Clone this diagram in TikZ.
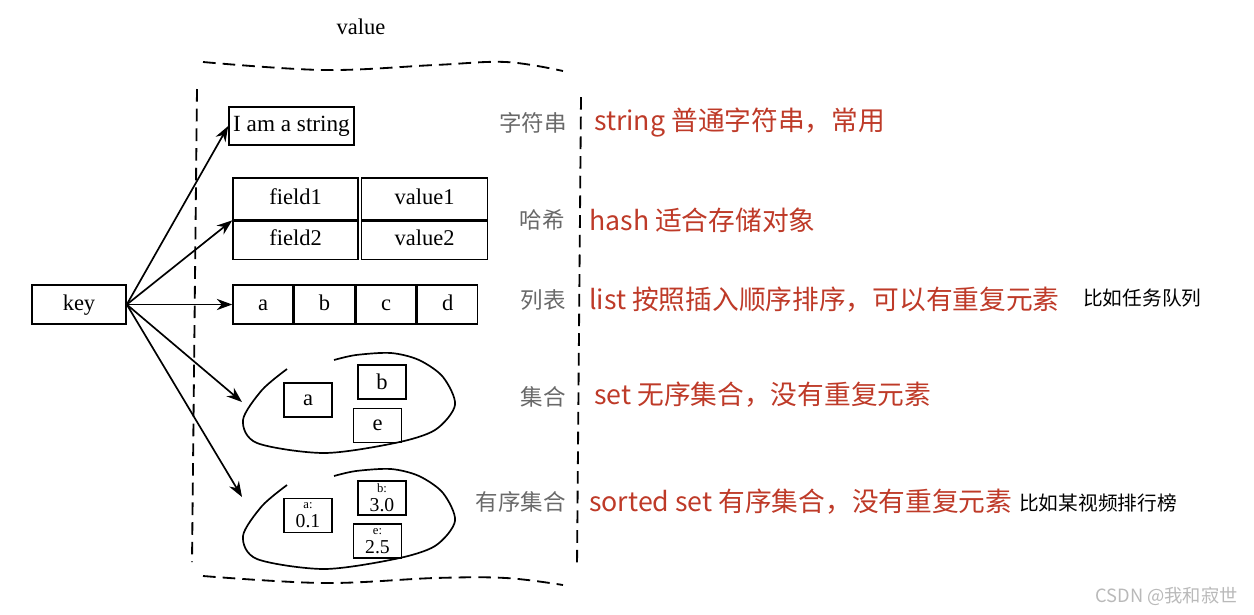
\documentclass[tikz,border=0pt]{standalone}
\usepackage{fontspec}
\usepackage{xcolor}
\usepackage{tikz}
\usetikzlibrary{arrows.meta, positioning}
\setmainfont{Liberation Serif}
\newfontfamily\cjk{Noto Sans CJK SC}
\definecolor{notered}{RGB}{190,58,40}
\definecolor{typegray}{RGB}{105,105,105}
\definecolor{markgray}{RGB}{185,185,185}

\begin{document}
\begin{tikzpicture}[
        x=0.025cm, y=-0.025cm,
        every node/.style={font=\fontsize{16}{18}\selectfont},
        cell/.style={rectangle, draw, line width=1.1pt, inner sep=0pt, minimum height=0.975cm, text height=11pt, text depth=3pt},
        member/.style={rectangle, draw, line width=1.1pt, inner sep=0pt, minimum width=1.2cm, minimum height=0.85cm},
        scored/.style={member, align=center, font=\fontsize{14}{13.5}\selectfont},
        border/.style={dash pattern=on 9pt off 5pt, line width=1.3pt},
        pool/.style={line width=1.2pt},
        typename/.style={anchor=east, inner sep=0pt, text=typegray, font=\cjk\fontsize{16}{16}\selectfont},
        note/.style={anchor=west, inner sep=0pt, text=notered, font=\cjk\fontsize{19}{20}\selectfont},
        example/.style={anchor=west, inner sep=0pt, font=\cjk\fontsize{14}{15}\selectfont},
        arrow/.style={-{Stealth[length=11pt, width=8pt]}, line width=1.2pt}
    ]
        \useasboundingbox (0,0) rectangle (1254,614);

        \node (title) at (361,27) {value};
        \draw[border] plot[smooth, tension=0.6] coordinates {(203,62) (324,70) (435,65) (506,62) (563,71)};
        \draw[border] plot[smooth, tension=0.6] coordinates {(203,576) (324,583) (435,578) (506,578) (563,585)};
        \draw[border] (197,89) -- (192,562);
        \draw[border] (581,97) -- (577,567);

        \node[cell, minimum width=2.35cm] (key) at (79,304.5) {key};
        \node[cell, minimum width=3.125cm, minimum height=0.95cm, font=\fontsize{16.5}{18}\selectfont] (str) at (291.5,126) {I am a string};

        \node[cell, minimum width=3.125cm, minimum height=1.04cm] (field1) at (295.5,198.8) {field1};
        \node[cell, minimum width=3.15cm, minimum height=1.04cm, right=0.05cm of field1] (value1) {value1};
        \node[cell, minimum width=3.125cm, minimum height=0.96cm, below=0pt of field1] (field2) {field2};
        \node[cell, minimum width=3.15cm, minimum height=0.96cm, below=0pt of value1] (value2) {value2};

        \node[cell, minimum width=1.5cm] (la) at (263,304.5) {a};
        \node[cell, minimum width=1.5cm, right=0pt of la] (lb) {b};
        \node[cell, minimum width=1.5cm, right=0pt of lb] (lc) {c};
        \node[cell, minimum width=1.5cm, right=0pt of lc] (ld) {d};

        \draw[pool] plot[smooth] coordinates {(287,369) (262,390) (243,420) (257,443) (324,453) (395,443) (435,430) (455,405) (443,377) (419,360) (391,353) (356,355) (334,360)};
        \node[member] (sa) at (308,400) {a};
        \node[member] (sb) at (382,382) {b};
        \node[member] (se) at (377.5,425.5) {e};

        \draw[pool, shift={(0,116)}] plot[smooth] coordinates {(287,369) (262,390) (243,420) (257,443) (324,453) (395,443) (435,430) (455,405) (443,377) (419,360) (391,353) (356,355) (334,360)};
        \node[scored] (za) at (308,515.5) {{\fontsize{9}{9}\selectfont a:}\\0.1};
        \node[scored] (zb) at (382,498) {{\fontsize{9}{9}\selectfont b:}\\3.0};
        \node[scored] (ze) at (377.5,541) {{\fontsize{9}{9}\selectfont e:}\\2.5};

        \coordinate (setin) at (242,402);
        \coordinate (sortedin) at (242,497);
        \draw[arrow] (key.east) -- (str.west);
        \draw[arrow] (key.east) -- (field1.south west);
        \draw[arrow] (key.east) -- (la.west);
        \draw[arrow] (key.east) -- (setin);
        \draw[arrow] (key.east) -- (sortedin);

        \node[typename] (tstr) at (567,123) {字符串};
        \node[typename] (thash) at (565,220) {哈希};
        \node[typename] (tlist) at (566,300) {列表};
        \node[typename] (tset) at (566,397) {集合};
        \node[typename] (tzset) at (566,502) {有序集合};

        \node[note] (nstr) at (594,123) {string 普通字符串，常用};
        \node[note] (nhash) at (589,220) {hash 适合存储对象};
        \node[note] (nlist) at (589,300) {list 按照插入顺序排序，可以有重复元素};
        \node[example] (elist) at (1083,298) {比如任务队列};
        \node[note] (nset) at (594,395) {set 无序集合，没有重复元素};
        \node[note] (nzset) at (589,502) {sorted set 有序集合，没有重复元素};
        \node[example] (ezset) at (1019,503) {比如某视频排行榜};

        \node[anchor=east, inner sep=0pt, text=markgray, font=\cjk\fontsize{13}{13}\selectfont] (mark) at (1238,596) {CSDN @我和寂世};
    \end{tikzpicture}
\end{document}
